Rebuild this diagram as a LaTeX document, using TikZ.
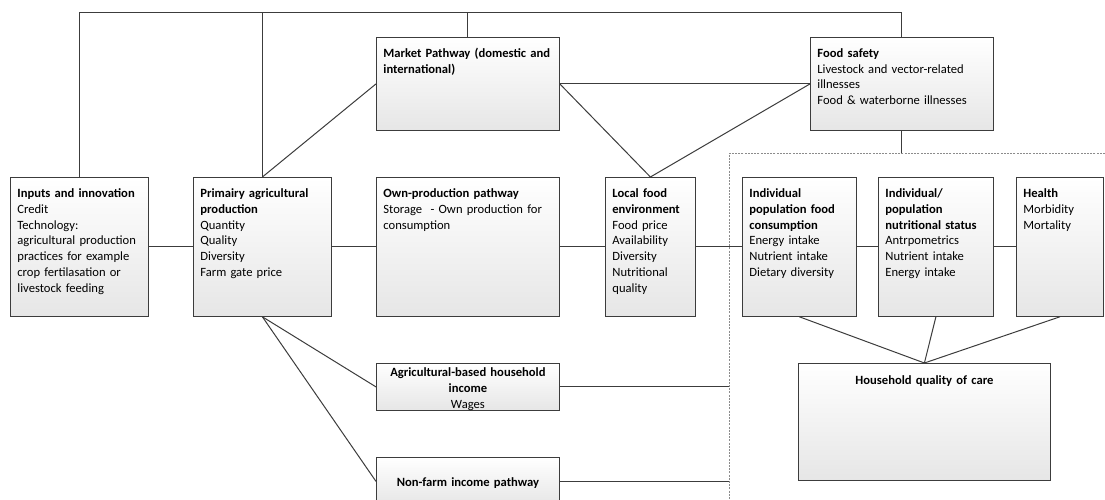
\documentclass[tikz,border=0pt]{standalone}
\usepackage{fontspec}
\setmainfont{Carlito}

\definecolor{edgec}{HTML}{3C3C3C}
\definecolor{shadec}{HTML}{E6E6E6}
\definecolor{dashc}{HTML}{8C8C8C}

\begin{document}
\begin{tikzpicture}
  [x=1pt,y=-1pt,font=\fontsize{12.6}{15.8}\selectfont,
   box/.style={draw=edgec,line width=.8pt,top color=white,bottom color=shadec,
     anchor=north west,inner xsep=7pt,inner ysep=0pt},
   blk/.style 2 args={box,text width=#1,text height=20pt,text depth=#2,align=left},
   conn/.style={draw=edgec,line width=1pt}]
  \useasboundingbox (0,0) rectangle (1105,500);

  \node[blk={124pt}{119pt}] (inp) at (10,177)
    {\textbf{Inputs and innovation}\\Credit\\Technology:\\agricultural production\\practices for example\\crop fertilasation or\\livestock feeding};
  \node[blk={124pt}{119pt}] (prim) at (193,177)
    {\textbf{Primairy agricultural}\\\textbf{production}\\Quantity\\Quality\\Diversity\\Farm gate price};
  \node[blk={169pt}{73pt}] (mkt) at (376,37)
    {\textbf{Market Pathway (domestic and}\\\textbf{international)}};
  \node[blk={169pt}{119pt}] (own) at (376,177)
    {\textbf{Own-production pathway}\\Storage~ - Own production for\\consumption};
  \node[blk={76pt}{119pt}] (loc) at (605,177)
    {\textbf{Local food}\\\textbf{environment}\\Food price\\Availability\\Diversity\\Nutritional\\quality};
  \node[blk={169pt}{73pt}] (fsafe) at (810,37)
    {\textbf{Food safety}\\Livestock and vector-related\\illnesses\\Food \& waterborne illnesses};
  \node[blk={100pt}{119pt}] (cons) at (742,177)
    {\textbf{Individual}\\\textbf{population food}\\\textbf{consumption}\\Energy intake\\Nutrient intake\\Dietary diversity};
  \node[blk={101pt}{119pt}] (nstat) at (878,177)
    {\textbf{Individual/}\\\textbf{population}\\\textbf{nutritional status}\\Antrpometrics\\Nutrient intake\\Energy intake};
  \node[blk={73pt}{119pt}] (hlth) at (1016,177)
    {\textbf{Health}\\Morbidity\\Mortality};
  \node[box,text width=169pt,text height=13pt,text depth=34pt,align=center] (agri) at (376,363)
    {\textbf{Agricultural-based household}\\\textbf{income}\\Wages};
  \node[box,text width=169pt,text height=29pt,text depth=19pt,align=center] (nonfarm) at (376,457)
    {\textbf{Non-farm income pathway}};
  \node[box,text width=238pt,text height=21pt,text depth=96pt,align=center] (care) at (798,363)
    {\textbf{Household quality of care}};

  % dashed frame round the outcomes
  \coordinate (dtop) at (729,153);
  \coordinate (top) at (0,13);
  \draw[dashc,line width=.7pt,dash pattern=on 2pt off 1.2pt] (1105,153) -- (dtop) -- (729,500);

  \draw[conn] (inp.north) |- (top -| fsafe.north) -- (fsafe.north);
  \draw[conn] (prim.north) -- (prim.north |- top);
  \draw[conn] (mkt.north) -- (mkt.north |- top);
  \draw[conn] (fsafe.south) -- (fsafe.south |- dtop);
  \draw[conn] (agri.east) -- (agri.east -| dtop);
  \draw[conn] (nonfarm.east) -- (nonfarm.east -| dtop);

\foreach \from/\to in
{inp.east/prim.west, prim.east/own.west, own.east/loc.west, loc.east/cons.west,
 cons.east/nstat.west, nstat.east/hlth.west, prim.north/mkt.west, mkt.east/fsafe.west,
 mkt.east/loc.north, loc.north/fsafe.west, cons.south/care.north, nstat.south/care.north,
 hlth.south/care.north, prim.south/agri.west, prim.south/nonfarm.west}
    \draw[conn] (\from) -- (\to);
\end{tikzpicture}
\end{document}
